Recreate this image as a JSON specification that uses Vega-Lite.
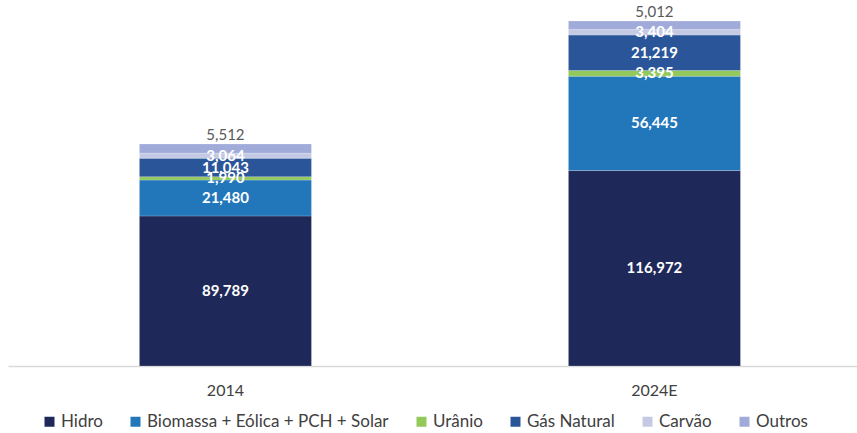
{
  "$schema": "https://vega.github.io/schema/vega-lite/v6.json",
  "width": 849,
  "height": 345,
  "autosize": {"type": "none"},
  "padding": {"left": 8, "top": 21, "right": 0, "bottom": 67},
  "background": "white",
  "config": {"view": {"stroke": null}, "font": "Lato"},
  "data": {"values": [
    {"ano": "2014", "fonte": "Hidro", "ord": 1, "valor": 89789},
    {"ano": "2014", "fonte": "Biomassa + Eólica + PCH + Solar", "ord": 2, "valor": 21480},
    {"ano": "2014", "fonte": "Urânio", "ord": 3, "valor": 1990},
    {"ano": "2014", "fonte": "Gás Natural", "ord": 4, "valor": 11043},
    {"ano": "2014", "fonte": "Carvão", "ord": 5, "valor": 3064},
    {"ano": "2014", "fonte": "Outros", "ord": 6, "valor": 5512},
    {"ano": "2024E", "fonte": "Hidro", "ord": 1, "valor": 116972},
    {"ano": "2024E", "fonte": "Biomassa + Eólica + PCH + Solar", "ord": 2, "valor": 56445},
    {"ano": "2024E", "fonte": "Urânio", "ord": 3, "valor": 3395},
    {"ano": "2024E", "fonte": "Gás Natural", "ord": 4, "valor": 21219},
    {"ano": "2024E", "fonte": "Carvão", "ord": 5, "valor": 3404},
    {"ano": "2024E", "fonte": "Outros", "ord": 6, "valor": 5012}
  ]},
  "encoding": {
    "x": {"field": "ano", "type": "nominal", "title": null,
      "scale": {"paddingInner": 0.599, "paddingOuter": 0.289, "align": 0.53},
      "axis": {"labelAngle": 0, "ticks": false, "domainColor": "#D9D9D9", "domainWidth": 1.5, "labelColor": "#404040", "labelFontSize": 16, "labelPadding": 16, "labelFont": "Lato"}}
  },
  "layer": [
    {
      "mark": {"type": "bar", "stroke": "white", "strokeWidth": 0.5, "strokeOpacity": 0.4},
      "encoding": {
        "y": {"field": "valor", "type": "quantitative", "stack": "zero", "scale": {"domain": [0, 206447], "nice": false}, "axis": null},
        "color": {"field": "fonte", "type": "nominal",
          "sort": ["Hidro", "Biomassa + Eólica + PCH + Solar", "Urânio", "Gás Natural", "Carvão", "Outros"],
          "scale": {"domain": ["Hidro", "Biomassa + Eólica + PCH + Solar", "Urânio", "Gás Natural", "Carvão", "Outros"],
            "range": ["#1E2859", "#2277BB", "#92C95A", "#2A5699", "#C4CAE4", "#A0ABD9"]},
          "legend": {"title": null, "orient": "none", "direction": "horizontal", "legendX": 33, "legendY": 392,
            "symbolType": "square", "symbolSize": 100, "symbolStrokeWidth": 0, "labelFontSize": 17, "labelColor": "#404040",
            "labelOffset": 3, "columnPadding": 24, "labelLimit": 400, "labelFont": "Lato"}},
        "order": {"field": "ord", "type": "quantitative"}
      }
    },
    {
      "mark": {"type": "text", "color": "white", "fontWeight": "bold", "fontSize": 15, "font": "Lato", "baseline": "middle"},
      "encoding": {
        "y": {"field": "valor", "type": "quantitative", "stack": "zero", "bandPosition": 0.5},
        "detail": {"field": "fonte"},
        "order": {"field": "ord", "type": "quantitative"},
        "text": {"field": "valor", "type": "quantitative", "format": ","},
        "opacity": {"condition": {"test": "datum.fonte === 'Outros'", "value": 0}, "value": 1}
      }
    },
    {
      "transform": [
        {"joinaggregate": [{"op": "sum", "field": "valor", "as": "total"}], "groupby": ["ano"]},
        {"filter": "datum.fonte === 'Outros'"}
      ],
      "mark": {"type": "text", "color": "#595959", "fontSize": 15, "font": "Lato", "baseline": "bottom", "dy": -1},
      "encoding": {
        "y": {"field": "total", "type": "quantitative"},
        "text": {"field": "valor", "type": "quantitative", "format": ","}
      }
    }
  ]
}
